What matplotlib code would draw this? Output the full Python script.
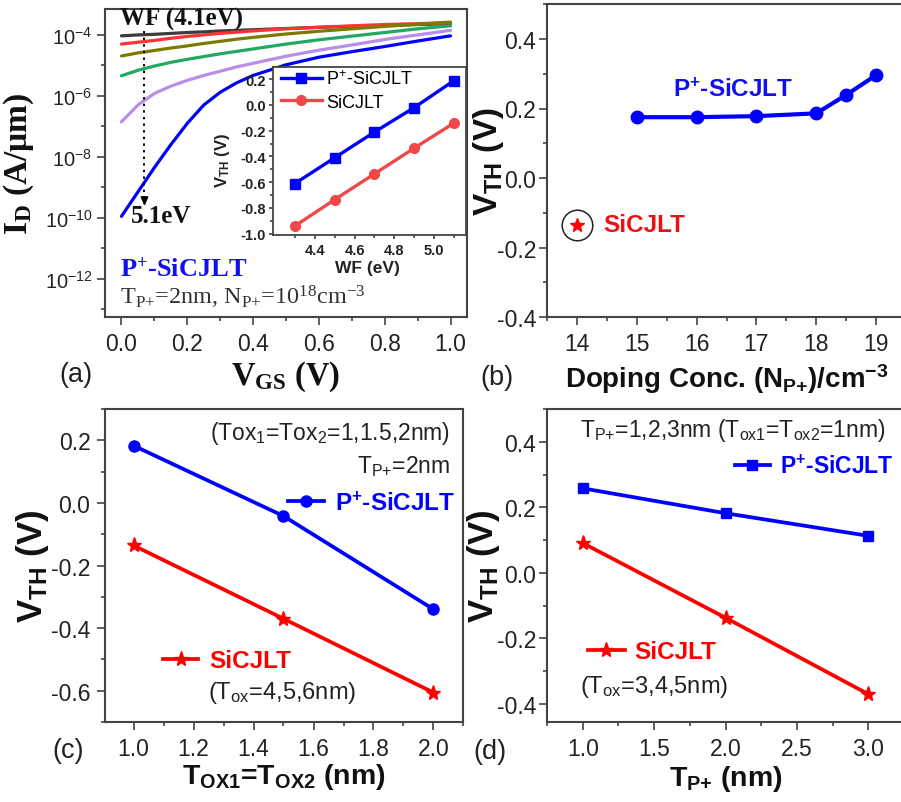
import numpy as np
import matplotlib
matplotlib.use('Agg')
import matplotlib.pyplot as plt
from matplotlib.ticker import FixedLocator, MultipleLocator, NullFormatter, FuncFormatter, FormatStrFormatter

plt.rcParams['font.family'] = ['Liberation Sans', 'DejaVu Sans']
plt.rcParams['mathtext.default'] = 'regular'
plt.rcParams['axes.unicode_minus'] = False

# ---------------- data ----------------
# (a) Id-Vgs, log10(I_D) for WF = 4.1 ... 5.1 eV
vgs = [0.0, 0.05, 0.1, 0.15, 0.2, 0.25, 0.3, 0.35, 0.4, 0.5, 0.6, 0.7, 0.8, 0.9, 1.0]
logid_41 = [-4.03, -4.00, -3.98, -3.95, -3.92, -3.90, -3.87, -3.85, -3.83, -3.79, -3.75, -3.72, -3.69, -3.66, -3.63]
logid_43 = [-4.30, -4.24, -4.18, -4.11, -4.05, -4.00, -3.95, -3.91, -3.87, -3.80, -3.75, -3.70, -3.66, -3.63, -3.60]
logid_45 = [-4.69, -4.59, -4.51, -4.43, -4.36, -4.28, -4.21, -4.14, -4.08, -3.97, -3.88, -3.80, -3.72, -3.65, -3.58]
logid_47 = [-5.34, -5.16, -5.02, -4.90, -4.80, -4.71, -4.62, -4.54, -4.46, -4.30, -4.16, -4.04, -3.92, -3.80, -3.70]
logid_49 = [-6.85, -6.30, -5.92, -5.68, -5.49, -5.33, -5.19, -5.05, -4.93, -4.70, -4.50, -4.33, -4.15, -4.00, -3.85]
logid_51 = [-9.95, -9.15, -8.35, -7.60, -6.90, -6.30, -5.88, -5.57, -5.33, -4.98, -4.73, -4.55, -4.38, -4.20, -4.03]
curve_colors = ['#3c3c3c', '#ff3333', '#7d7a00', '#22a862', '#b88ee8', '#0000ff']

# inset: V_TH vs WF
wf = [4.3, 4.5, 4.7, 4.9, 5.1]
vth_wf_p = [-0.61, -0.41, -0.21, -0.02, 0.19]
vth_wf_si = [-0.94, -0.735, -0.535, -0.335, -0.14]

# (b) V_TH vs doping
doping = [15, 16, 17, 18, 18.5, 19]
vth_dop_p = [0.175, 0.175, 0.178, 0.186, 0.239, 0.296]
doping_si = [14]
vth_dop_si = [-0.134]

# (c) V_TH vs Tox
tox = [1.0, 1.5, 2.0]
vth_tox_p = [0.183, -0.042, -0.34]
vth_tox_si = [-0.136, -0.37, -0.606]

# (d) V_TH vs T_P+
tp = [1.0, 2.0, 3.0]
vth_tp_p = [0.258, 0.182, 0.113]
vth_tp_si = [0.091, -0.137, -0.37]

BLUE = '#0000ff'
RED = '#ff0000'
SPINE = '#444444'
TXT = '#222222'
TICK = 16.5
ANN = 16.5

fig = plt.figure(figsize=(9.01, 8.03), dpi=100)

def px_axes(l, t, r, b, **kw):
    return fig.add_axes([l / 901, 1 - b / 803, (r - l) / 901, (b - t) / 803], **kw)

def style(ax, size=TICK, lw=1.5, major=5.5, minor=3.2, xpad=5, ypad=2.5):
    for s in ax.spines.values():
        s.set_linewidth(lw)
        s.set_color(SPINE)
    ax.tick_params(which='both', direction='out', color=SPINE, width=1.2,
                   labelsize=size, labelcolor=TXT, top=False, right=False)
    ax.tick_params(which='major', length=major)
    ax.tick_params(which='minor', length=minor)
    ax.tick_params(axis='x', pad=xpad)
    ax.tick_params(axis='y', pad=ypad)

# ---------------- (a) ----------------
axa = px_axes(105, 10, 467, 318)
for vals, c in zip([logid_41, logid_43, logid_45, logid_47, logid_49, logid_51], curve_colors):
    axa.semilogy(vgs, 10 ** np.array(vals), color=c, lw=2.3, solid_capstyle='round', solid_joinstyle='round')
axa.set_xlim(-0.05, 1.05)
axa.set_ylim(10 ** -13.25, 10 ** -3.15)
axa.yaxis.set_major_locator(FixedLocator([1e-12, 1e-10, 1e-8, 1e-6, 1e-4]))
axa.yaxis.set_minor_locator(FixedLocator([1e-13, 1e-11, 1e-9, 1e-7, 1e-5]))
axa.yaxis.set_major_formatter(FuncFormatter(lambda v, p: '10$^{%d}$' % round(np.log10(v))))
axa.yaxis.set_minor_formatter(NullFormatter())
axa.xaxis.set_major_locator(MultipleLocator(0.2))
axa.xaxis.set_minor_locator(MultipleLocator(0.1))
axa.xaxis.set_major_formatter(FormatStrFormatter('%.1f'))
style(axa, size=TICK, ypad=3.5)
axa.tick_params(axis='y', labelsize=14.5)

# dotted arrow from 4.1eV to 5.1eV
arrow_x = 0.07
axa.plot([arrow_x, arrow_x], [10 ** -3.87, 10 ** -9.45], ls=(0, (1.2, 2.2)), color='k', lw=1.4)
axa.annotate('', xy=(arrow_x, 10 ** -9.7), xytext=(arrow_x, 10 ** -9.3),
             arrowprops=dict(arrowstyle='-|>,head_width=0.22,head_length=0.5', color='k', lw=1.2))

serif = ['Liberation Serif', 'DejaVu Serif']
axa.text(0.041, 0.968, 'WF (4.1eV)', transform=axa.transAxes, family=serif, weight='bold',
         fontsize=18, va='center', ha='left', color='#111')
axa.text(0.072, 0.33, '5.1eV', transform=axa.transAxes, family=serif, weight='bold',
         fontsize=18, va='center', ha='left', color='#111')
axa.text(0.041, 0.158, 'P$^{+}$-SiCJLT', transform=axa.transAxes, family=serif, weight='bold',
         fontsize=19, va='center', ha='left', color='#1010ee')
axa.text(0.041, 0.068, 'T$_{P{+}}$=2nm, N$_{P{+}}$=10$^{18}$cm$^{-3}$', transform=axa.transAxes,
         family=serif, fontsize=17.5, va='center', ha='left', color='#333333')

axa.set_ylabel('I$_{D}$ (A/μm)', family=serif, weight='bold', fontsize=24, color='#111')
axa.yaxis.set_label_coords(-0.19, 0.5)
axa.set_xlabel('V$_{GS}$ (V)', family=serif, weight='bold', fontsize=23.5, color='#111')
axa.xaxis.set_label_coords(0.5, -0.135)

# ---------------- inset ----------------
axi = px_axes(273, 68, 466, 236, zorder=5)
axi.set_facecolor('white')
axi.plot(wf, vth_wf_p, 's-', color=BLUE, lw=2.4, ms=6.5, label='P$^{+}$-SiCJLT')
axi.plot(wf, vth_wf_si, 'o-', color='#f04848', lw=2.4, ms=7, label='SiCJLT')
axi.set_xlim(4.19, 5.16)
axi.set_ylim(-1.01, 0.295)
axi.xaxis.set_major_locator(FixedLocator([4.4, 4.6, 4.8, 5.0]))
axi.xaxis.set_minor_locator(FixedLocator([4.3, 4.5, 4.7, 4.9, 5.1]))
axi.yaxis.set_major_locator(MultipleLocator(0.2))
axi.yaxis.set_minor_locator(MultipleLocator(0.1))
axi.xaxis.set_major_formatter(FormatStrFormatter('%.1f'))
axi.yaxis.set_major_formatter(FormatStrFormatter('%.1f'))
style(axi, size=10.5, lw=1.3, major=3, minor=2, xpad=3, ypad=2)
for lab in axi.get_xticklabels() + axi.get_yticklabels():
    lab.set_fontweight('bold')
axi.legend(loc='upper left', bbox_to_anchor=(0.04, 0.985), frameon=False, fontsize=13,
           handlelength=2.3, handletextpad=0.2, labelspacing=0.3, borderpad=0, borderaxespad=0)
axi.set_ylabel('V$_{TH}$ (V)', weight='bold', fontsize=12, color=TXT)
axi.yaxis.set_label_coords(-0.21, 0.45)
axi.set_xlabel('WF (eV)', weight='bold', fontsize=12.5, color=TXT)
axi.xaxis.set_label_coords(0.49, -0.15)

# ---------------- (b) ----------------
axb = px_axes(547, 5.25, 906, 318)
axb.plot(doping, vth_dop_p, 'o-', color=BLUE, lw=3, ms=9)
axb.plot(doping_si, vth_dop_si, ls='none', marker='*', color=RED, ms=10)
axb.plot(doping_si, vth_dop_si, ls='none', marker='o', mfc='none', mec='#222', mew=1.1, ms=22)
axb.set_xlim(13.5, 19.5)
axb.set_ylim(-0.4, 0.5)
axb.xaxis.set_major_locator(MultipleLocator(1))
axb.xaxis.set_minor_locator(MultipleLocator(0.5))
axb.yaxis.set_major_locator(FixedLocator([-0.4, -0.2, 0.0, 0.2, 0.4]))
axb.yaxis.set_minor_locator(MultipleLocator(0.1))
axb.yaxis.set_major_formatter(FormatStrFormatter('%.1f'))
style(axb)
axb.text(15.6, 0.256, 'P$^{+}$-SiCJLT', color='#1010ee', weight='bold', fontsize=17.5, va='center', ha='left')
axb.text(14.44, -0.135, 'SiCJLT', color='#ee1111', weight='bold', fontsize=17.5, va='center', ha='left')
axb.set_ylabel('V$_{TH}$ (V)', weight='bold', fontsize=24, color='#111')
axb.yaxis.set_label_coords(-0.115, 0.5)
axb.set_xlabel('Doping Conc. (N$_{P{+}}$)/cm$^{-3}$', weight='bold', fontsize=20, color='#111')
axb.xaxis.set_label_coords(0.5, -0.14)

# ---------------- (c) ----------------
axc = px_axes(105, 410, 463.5, 723)
lc1, = axc.plot(tox, vth_tox_p, 'o-', color=BLUE, lw=2.7, ms=8, label='P$^{+}$-SiCJLT')
lc2, = axc.plot(tox, vth_tox_si, '*-', color=RED, lw=2.7, ms=11, label='SiCJLT')
axc.set_xlim(0.905, 2.1)
axc.set_ylim(-0.7, 0.3)
axc.xaxis.set_major_locator(MultipleLocator(0.2))
axc.xaxis.set_minor_locator(MultipleLocator(0.1))
axc.yaxis.set_major_locator(MultipleLocator(0.2))
axc.yaxis.set_minor_locator(MultipleLocator(0.1))
axc.xaxis.set_major_formatter(FormatStrFormatter('%.1f'))
axc.yaxis.set_major_formatter(FormatStrFormatter('%.1f'))
style(axc, ypad=5)
legc1 = axc.legend([lc1], [lc1.get_label()], loc='center left', bbox_to_anchor=(0.51, 0.70),
                   frameon=False, prop={'weight': 'bold', 'size': 17.5}, labelcolor='linecolor',
                   handlelength=1.5, handletextpad=0.45, borderpad=0, borderaxespad=0)
axc.add_artist(legc1)
axc.legend([lc2], [lc2.get_label()], loc='center left', bbox_to_anchor=(0.162, 0.195),
           frameon=False, prop={'weight': 'bold', 'size': 17.5}, labelcolor='linecolor',
           handlelength=1.45, handletextpad=0.45, borderpad=0, borderaxespad=0)
axc.text(0.962, 0.926, '(Tox$_{1}$=Tox$_{2}$=1,1.5,2nm)', transform=axc.transAxes, ha='right',
         va='center', fontsize=ANN, color=TXT)
axc.text(0.962, 0.818, 'T$_{P{+}}$=2nm', transform=axc.transAxes, ha='right',
         va='center', fontsize=ANN, color=TXT)
axc.text(0.287, 0.096, '(T$_{ox}$=4,5,6nm)', transform=axc.transAxes, ha='left',
         va='center', fontsize=ANN + 0.5, color=TXT)
axc.set_ylabel('V$_{TH}$ (V)', weight='bold', fontsize=25, color='#111')
axc.yaxis.set_label_coords(-0.15, 0.5)
axc.set_xlabel('T$_{OX1}$=T$_{OX2}$ (nm)', weight='bold', fontsize=20.5, color='#111')
axc.xaxis.set_label_coords(0.5, -0.125)

# ---------------- (d) ----------------
axd = px_axes(547, 410, 904, 723)
ld1, = axd.plot(tp, vth_tp_p, 's-', color=BLUE, lw=2.7, ms=7.5, label='P$^{+}$-SiCJLT')
ld2, = axd.plot(tp, vth_tp_si, '*-', color=RED, lw=2.7, ms=11, label='SiCJLT')
axd.set_xlim(0.75, 3.25)
axd.set_ylim(-0.455, 0.5)
axd.xaxis.set_major_locator(MultipleLocator(0.5))
axd.xaxis.set_minor_locator(MultipleLocator(0.25))
axd.yaxis.set_major_locator(FixedLocator([-0.4, -0.2, 0.0, 0.2, 0.4]))
axd.yaxis.set_minor_locator(MultipleLocator(0.1))
axd.xaxis.set_major_formatter(FormatStrFormatter('%.1f'))
axd.yaxis.set_major_formatter(FormatStrFormatter('%.1f'))
style(axd)
legd1 = axd.legend([ld1], [ld1.get_label()], loc='center left', bbox_to_anchor=(0.527, 0.818),
                   frameon=False, prop={'weight': 'bold', 'size': 16.5}, labelcolor='linecolor',
                   handlelength=1.5, handletextpad=0.45, borderpad=0, borderaxespad=0)
axd.add_artist(legd1)
axd.legend([ld2], [ld2.get_label()], loc='center left', bbox_to_anchor=(0.115, 0.224),
           frameon=False, prop={'weight': 'bold', 'size': 17.5}, labelcolor='linecolor',
           handlelength=1.5, handletextpad=0.4, borderpad=0, borderaxespad=0)
axd.text(0.092, 0.936, 'T$_{P{+}}$=1,2,3nm (T$_{ox1}$=T$_{ox2}$=1nm)', transform=axd.transAxes,
         ha='left', va='center', fontsize=ANN, color=TXT)
axd.text(0.092, 0.115, '(T$_{ox}$=3,4,5nm)', transform=axd.transAxes, ha='left',
         va='center', fontsize=ANN + 0.5, color=TXT)
axd.set_ylabel('V$_{TH}$ (V)', weight='bold', fontsize=25, color='#111')
axd.yaxis.set_label_coords(-0.125, 0.5)
axd.set_xlabel('T$_{P{+}}$ (nm)', weight='bold', fontsize=20.5, color='#111')
axd.xaxis.set_label_coords(0.5, -0.13)

# panel tags
for tag, x, y in [('(a)', 76, 375), ('(b)', 497, 378), ('(c)', 68, 751), ('(d)', 490, 752)]:
    fig.text(x / 901, 1 - y / 803, tag, fontsize=19.5, color=TXT, ha='center', va='center')

fig.savefig('out.png', dpi=100)
